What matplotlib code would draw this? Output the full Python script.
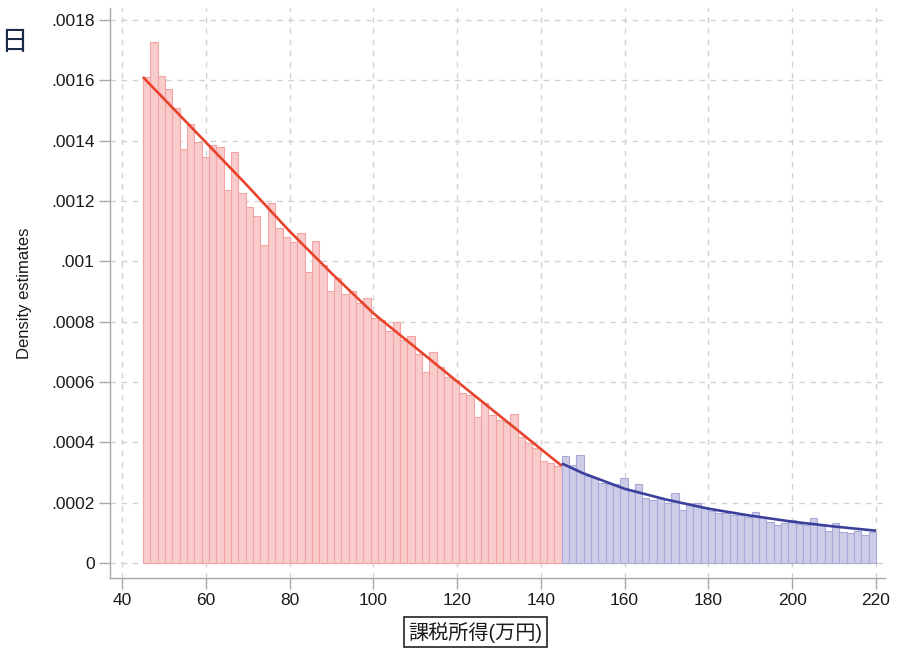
import matplotlib
matplotlib.use("Agg")
import matplotlib.pyplot as plt
import numpy as np

plt.rcParams['font.family'] = ['Liberation Sans', 'Noto Sans CJK JP', 'DejaVu Sans']

# ---- data ----
red_start, red_end = 45.0, 145.0
blue_start, blue_end = 145.0, 220.0

red_density = [0.001612, 0.001726, 0.001615, 0.001571, 0.001507, 0.001372, 0.001454, 0.001397,
               0.001347, 0.001386, 0.001378, 0.001236, 0.001363, 0.001225, 0.001181, 0.001151,
               0.001054, 0.001194, 0.001109, 0.001080, 0.001065, 0.001095, 0.000966, 0.001067,
               0.000988, 0.000903, 0.000944, 0.000893, 0.000903, 0.000863, 0.000877, 0.000811,
               0.000805, 0.000770, 0.000800, 0.000739, 0.000752, 0.000693, 0.000634, 0.000700,
               0.000649, 0.000618, 0.000607, 0.000563, 0.000557, 0.000483, 0.000531, 0.000491,
               0.000474, 0.000468, 0.000494, 0.000419, 0.000397, 0.000380, 0.000339, 0.000332,
               0.000322]
blue_density = [0.000355, 0.000325, 0.000357, 0.000290, 0.000281, 0.000266, 0.000262, 0.000262,
                0.000282, 0.000242, 0.000262, 0.000214, 0.000209, 0.000216, 0.000198, 0.000231,
                0.000176, 0.000195, 0.000200, 0.000185, 0.000172, 0.000167, 0.000165, 0.000159,
                0.000159, 0.000151, 0.000170, 0.000154, 0.000137, 0.000126, 0.000132, 0.000143,
                0.000129, 0.000126, 0.000148, 0.000126, 0.000107, 0.000134, 0.000104, 0.000100,
                0.000107, 0.000093, 0.000104]

red_fit_x = [45, 60, 70, 80, 90, 100, 110, 120, 130, 145]
red_fit_y = [0.001611, 0.001395, 0.001250, 0.001100, 0.000961, 0.000828, 0.000715, 0.000602,
             0.000490, 0.000322]
blue_fit_x = [145, 150, 160, 170, 180, 190, 200, 210, 220]
blue_fit_y = [0.000330, 0.000298, 0.000246, 0.000210, 0.000180, 0.000157, 0.000137, 0.000121,
              0.000107]

x_ticks = [40, 60, 80, 100, 120, 140, 160, 180, 200, 220]
y_ticks = [0, 0.0002, 0.0004, 0.0006, 0.0008, 0.001, 0.0012, 0.0014, 0.0016, 0.0018]
y_tick_labels = ["0", ".0002", ".0004", ".0006", ".0008", ".001", ".0012", ".0014", ".0016", ".0018"]
x_label = "課税所得(万円)"
y_label = "Density estimates"

# ---- figure ----
fig = plt.figure(figsize=(9, 6.5), dpi=100)
ax = fig.add_axes([0.1222, 0.1108, 0.8608, 0.877])

red_edges = np.linspace(red_start, red_end, len(red_density) + 1)
blue_edges = np.linspace(blue_start, blue_end, len(blue_density) + 1)

ax.bar(red_edges[:-1], red_density, width=np.diff(red_edges), align='edge',
       facecolor='#f9cccc', edgecolor='#f3a5a5', linewidth=0.8, zorder=2)
ax.bar(blue_edges[:-1], blue_density, width=np.diff(blue_edges), align='edge',
       facecolor='#cdcde8', edgecolor='#a9a9d8', linewidth=0.8, zorder=2)

ax.plot(red_fit_x, red_fit_y, color='#e8432c', linewidth=1.9, zorder=3, solid_capstyle='butt')
ax.plot(blue_fit_x, blue_fit_y, color='#3b3f9c', linewidth=1.9, zorder=3, solid_capstyle='butt')

ax.set_xlim(37.14, 222.1)
ax.set_ylim(-0.0000497, 0.00184)

ax.set_xticks(x_ticks)
ax.set_yticks(y_ticks)
ax.set_yticklabels(y_tick_labels)
ax.tick_params(axis='both', which='major', direction='out', length=8, width=1.0,
               color='#a8a8a8', labelsize=12.5, labelcolor='#1a1a1a', pad=3)

ax.grid(True, linestyle=(0, (4, 4)), color='#d2d2d2', linewidth=1.0, zorder=0)
ax.set_axisbelow(True)

for s in ['top', 'right']:
    ax.spines[s].set_visible(False)
for s in ['left', 'bottom']:
    ax.spines[s].set_color('#a8a8a8')
    ax.spines[s].set_linewidth(1.0)

ax.set_ylabel(y_label, fontsize=12, color='#1a1a1a', labelpad=14)
ax.set_xlabel(x_label, fontsize=14.5, color='#1a1a1a', labelpad=8,
              bbox=dict(boxstyle='square,pad=0.22', facecolor='white', edgecolor='#222222', linewidth=1.2))
ax.xaxis.set_label_coords(0.472, -0.077)

fig.text(0.0, 0.935, "日", fontsize=20, color='#1a2a4a', ha='left', va='center',
         family=['Noto Sans CJK JP'])

fig.savefig("out.png", dpi=100)
